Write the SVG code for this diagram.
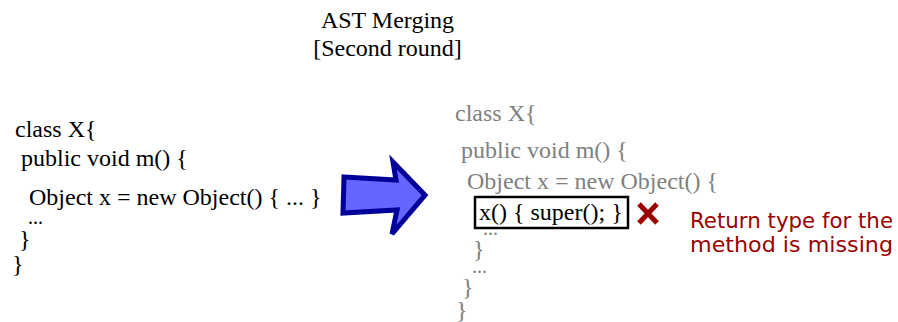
<svg xmlns="http://www.w3.org/2000/svg" width="898" height="322" viewBox="0 0 898 322">
<style>
.code{font-family:"Liberation Serif","Times New Roman",serif;font-size:24px;fill:#000}
.dots{font-size:20px}
.gray{fill:#7f7f7f}
.title{font-family:"Liberation Serif","Times New Roman",serif;font-size:24px;fill:#000;text-anchor:middle}
.err{font-family:"DejaVu Sans","Verdana",sans-serif;font-size:21px;fill:#9b0000}
</style>
<rect width="898" height="322" fill="#fff"/>
<g id="title">
<text class="title" x="387.5" y="28">AST Merging</text>
<text class="title" x="387.5" y="56">[Second round]</text>
</g>
<g id="left-code">
<text class="code" x="15" y="137">class X{</text>
<text class="code" x="21" y="166">public void m() {</text>
<text class="code" x="29" y="205">Object x = new Object() { ... }</text>
<text class="code dots" x="28" y="224">...</text>
<text class="code" x="19" y="247">}</text>
<text class="code" x="12" y="272">}</text>
</g>
<g id="connectors">
<polygon points="344,177 396,180 393,162 425,195 392,234 397,210 343,213" fill="#6666ff" stroke="#000099" stroke-width="5" stroke-linejoin="miter"/>
</g>
<g id="right-code">
<text class="code gray" x="455" y="121">class X{</text>
<text class="code gray" x="461" y="158">public void m() {</text>
<text class="code gray" x="467" y="189">Object x = new Object() {</text>
<text class="code gray dots" x="483" y="235">...</text>
<text class="code gray" x="473" y="257">}</text>
<text class="code gray dots" x="472" y="273">...</text>
<text class="code gray" x="462" y="295">}</text>
<text class="code gray" x="456" y="318">}</text>
</g>
<g id="highlight">
<rect x="475" y="197" width="153" height="31" fill="none" stroke="#000" stroke-width="2.5"/>
<text class="code" x="479" y="220">x() { super(); }</text>
</g>
<g id="error-mark">
<path d="M639,204 L657,223 M657,204 L639,223" stroke="#9b0000" stroke-width="5" fill="none"/>
</g>
<g id="error-label">
<text class="err" x="690" y="228" textLength="203" lengthAdjust="spacingAndGlyphs">Return type for the</text>
<text class="err" x="690" y="252" textLength="203" lengthAdjust="spacingAndGlyphs">method is missing</text>
</g>
</svg>
